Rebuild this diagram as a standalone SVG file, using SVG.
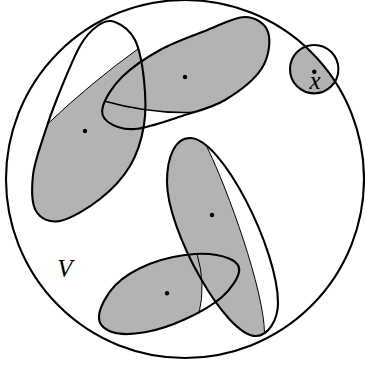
<svg xmlns="http://www.w3.org/2000/svg" width="365" height="365" viewBox="0 0 365 365">
<style>
.g{fill:#b3b3b3;stroke:none}
.o{fill:none;stroke:#000;stroke-width:2.1}
.c{fill:none;stroke:#000;stroke-width:1}
.cf{fill:none;stroke:#000;stroke-width:1.4}
.d{fill:#000}
.t{font-family:"Liberation Serif","DejaVu Serif",serif;font-style:italic;font-size:25px;text-anchor:middle}
</style>
<defs>
<path id="pA" d="M115,22 C121.17,24.42 130.17,30.33 135,40 C139.83,49.67 142.5,65.83 144,80 C145.5,94.17 146.33,110.67 144,125 C141.67,139.33 137.33,153.67 130,166 C122.67,178.33 111.67,189.83 100,199 C88.33,208.17 70.67,219 60,221 C49.33,223 40.5,218.67 36,211 C31.5,203.33 31.67,187.67 33,175 C34.33,162.33 39.83,148.17 44,135 C48.17,121.83 52,110.83 58,96 C64,81.17 73.33,57.75 80,46 C86.67,34.25 92.17,29.5 98,25.5 C103.83,21.5 108.83,19.58 115,22 Z"/>
<path id="pF" d="M103,106 C105.33,98.5 112.5,86.33 122,77 C131.5,67.67 146.17,57.67 160,50 C173.83,42.33 190.83,36.5 205,31 C219.17,25.5 234.5,16.83 245,17 C255.5,17.17 265.17,23.5 268,32 C270.83,40.5 269.17,56.67 262,68 C254.83,79.33 238.33,92 225,100 C211.67,108 197,111.17 182,116 C167,120.83 147.33,128 135,129 C122.67,130 113.33,125.83 108,122 C102.67,118.17 100.67,113.5 103,106 Z"/>
<path id="pD" d="M190,138 C175,138 167,157 167,182 C167,230 225,336 256,336 C268,336 278,320 278,303 C278,250 222,138 190,138 Z"/>
<path id="pG" d="M99,316 C99.5,308.25 106.5,294.2 115,285.5 C123.5,276.8 136.67,269.05 150,263.8 C163.33,258.55 181.83,254.88 195,254 C208.17,253.12 221.67,255.5 229,258.5 C236.33,261.5 240.17,265.58 239,272 C237.83,278.420 231,289.12 222,297 C213,304.88 197.83,313.42 185,319.3 C172.17,325.18 157.17,330.18 145,332.3 C132.83,334.42 119.67,334.72 112,332 C104.33,329.28 98.5,323.75 99,316 Z"/>
<clipPath id="kA"><path d="M14.7,150.2 L47,124.5 Q90.2,83.4 138.5,48.5 L171,23 L320,23 L320,320 L0,320 L0,150 Z"/></clipPath>
<clipPath id="kF"><path d="M65.5,90.1 L104,101 Q150,114 194,112.3 L300,108 L300,0 L65.5,0 Z"/></clipPath>
<clipPath id="kD"><path d="M195.2,120.4 L207,147 C228,190 264,290 264.5,333 L264.5,370 L100,370 L100,120.4 Z"/></clipPath>
<clipPath id="kG"><path d="M188.6,224.5 L197,254 Q206,284 199,313.5 L192,344 L80,344 L80,224.5 Z"/></clipPath>
<clipPath id="kV"><circle cx="185" cy="179" r="179"/></clipPath>
</defs>
<g id="fills">
<use href="#pA" class="g" clip-path="url(#kA)"/>
<use href="#pF" class="g" clip-path="url(#kF)"/>
<use href="#pD" class="g" clip-path="url(#kD)"/>
<use href="#pG" class="g" clip-path="url(#kG)"/>
<circle cx="314.2" cy="69.2" r="24.2" class="g" clip-path="url(#kV)"/>
</g>
<g id="V">
<circle cx="185" cy="179" r="179" class="o"/>
<text x="65" y="277" class="t">V</text>
</g>
<g id="setA">
<path class="c" d="M47,124.5 Q90.2,83.4 138.5,48.5"/>
<use href="#pA" class="o"/>
<circle cx="85" cy="131" r="2.2" class="d"/>
</g>
<g id="setF">
<path class="cf" d="M104,101 Q150,114 194,112.3"/>
<use href="#pF" class="o"/>
<circle cx="185" cy="77" r="2.2" class="d"/>
</g>
<g id="setD">
<path class="c" d="M207,147 C228,190 264,290 264.5,333"/>
<use href="#pD" class="o"/>
<circle cx="212" cy="215" r="2.2" class="d"/>
</g>
<g id="setG">
<path class="c" d="M197,254 Q206,284 199,313.5"/>
<use href="#pG" class="o"/>
<circle cx="167" cy="293.3" r="2.2" class="d"/>
</g>
<g id="x">
<circle cx="314.2" cy="69.2" r="24.2" class="o"/>
<circle cx="314.3" cy="71.7" r="2.2" class="d"/>
<text x="315" y="89" class="t">x</text>
</g>
</svg>
